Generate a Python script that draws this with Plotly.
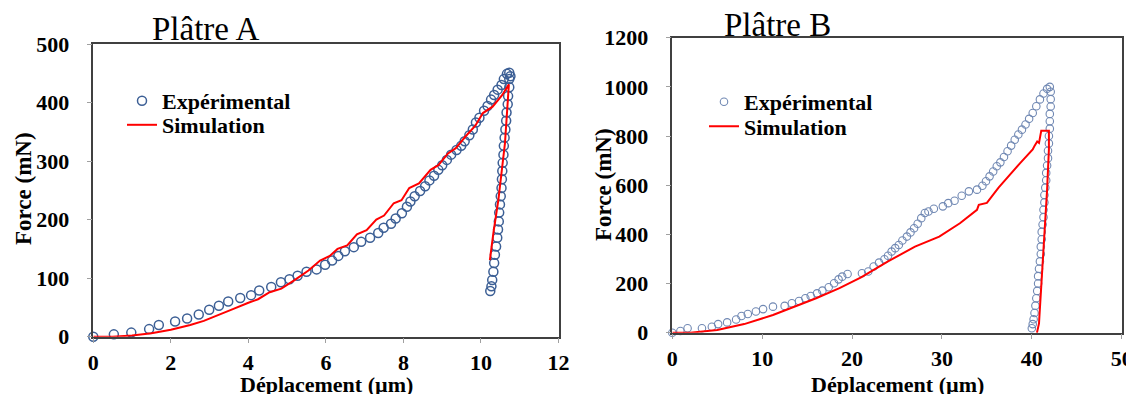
import plotly.graph_objects as go

# ---------------- Data: Plâtre A ----------------
expA_x = [0, 0.53, 0.98, 1.44, 1.69, 2.11, 2.42, 2.72, 2.99, 3.24, 3.48, 3.79, 4.07, 4.28,
          4.59, 4.84, 5.06, 5.27, 5.50, 5.76, 5.98, 6.16, 6.32, 6.49, 6.72, 6.91, 7.14, 7.35,
          7.49, 7.68, 7.80, 7.96, 8.09, 8.18, 8.29, 8.43, 8.56, 8.67, 8.79, 8.90, 9.00, 9.12,
          9.23, 9.37, 9.49, 9.58, 9.70, 9.79, 9.87, 9.96, 10.08, 10.17, 10.26, 10.34, 10.43,
          10.53, 10.59, 10.67, 10.73,
          10.76, 10.73, 10.73, 10.70, 10.69, 10.66, 10.65, 10.63, 10.61, 10.59, 10.58, 10.56,
          10.55, 10.54, 10.53, 10.51, 10.49, 10.47, 10.46, 10.44, 10.42, 10.39, 10.36, 10.34,
          10.32, 10.29, 10.27, 10.24]
expA_y = [0, 4, 7, 13, 20, 26, 31, 38, 46, 53, 60, 66, 71, 79,
          85, 93, 98, 104, 111, 115, 123, 130, 138, 146, 153, 162, 169, 177,
          186, 193, 202, 211, 222, 231, 240, 249, 257, 267, 275, 285, 293, 302,
          311, 319, 326, 334, 344, 354, 366, 374, 386, 394, 405, 413, 422,
          430, 440, 449, 451,
          445, 440, 426, 411, 397, 383, 369, 354, 340, 326, 311, 297,
          283, 269, 254, 240, 226, 212, 197, 183, 169, 154, 140, 126,
          111, 97, 86, 78]

simA_x = [0, 0.5, 1.0, 1.5, 2.0, 2.5, 2.85, 3.25, 3.6, 4.0, 4.25, 4.55, 4.85, 5.2, 5.55,
          5.85, 6.1, 6.3, 6.55, 6.8, 7.05, 7.3, 7.5, 7.75, 7.95, 8.15, 8.4, 8.7, 8.9, 9.15,
          9.35, 9.6, 9.85, 10.05, 10.3, 10.55, 10.72, 10.62, 10.45, 10.32, 10.23]
simA_y = [0, 0, 2, 6, 12, 20, 27, 37, 47, 58, 64, 76, 82, 97, 113,
          130, 138, 150, 156, 175, 182, 200, 207, 228, 233, 254, 262, 285, 293, 313,
          322, 342, 360, 382, 393, 413, 431, 331, 234, 177, 131]

# ---------------- Data: Plâtre B ----------------
expB_x = [0, 0.9, 1.7, 3.3, 4.4, 5.1, 6.1, 7.1, 7.7, 8.4, 9.3, 10.1, 11.2, 12.5, 13.3,
          14.1, 14.8, 15.4, 16.1, 16.7, 17.4, 18.0, 18.5, 18.9, 19.5, 21.1, 21.8, 22.4,
          23.0, 23.6, 24.0, 24.4, 24.8, 25.2, 25.6, 26.1, 26.5, 26.9, 27.3, 27.7, 28.1,
          28.5, 29.1, 30.1, 30.7, 31.4, 32.2, 33.0, 33.9, 34.5, 34.9, 35.3, 35.7, 36.1,
          36.5, 36.9, 37.3, 37.7, 38.1, 38.5, 38.9, 39.3, 39.7, 40.1, 40.5, 40.9, 41.3,
          41.7, 42.0,
          42.1, 42.1, 42.1, 42.0, 42.0, 42.0, 41.9, 41.9, 41.8, 41.8, 41.7, 41.6, 41.6,
          41.5, 41.4, 41.4, 41.3, 41.3, 41.2, 41.1, 41.1, 41.0, 41.0, 40.9, 40.8, 40.7,
          40.7, 40.6, 40.5, 40.4, 40.3, 40.2, 40.1, 40.0]
expB_y = [0, 7, 18, 18, 24, 35, 42, 54, 68, 76, 86, 96, 106, 109, 120,
          129, 140, 149, 160, 171, 185, 201, 217, 228, 239, 242, 249, 269,
          285, 299, 313, 330, 344, 357, 375, 391, 408, 425, 443, 466, 487,
          493, 504, 514, 527, 537, 557, 575, 582, 598, 616, 636, 656, 677,
          693, 715, 738, 761, 785, 806, 826, 847, 870, 894, 921, 949, 973,
          992, 1000,
          980, 950, 920, 890, 860, 830, 800, 770, 740, 710, 680, 650, 620,
          590, 560, 530, 500, 470, 440, 410, 380, 350, 320, 290, 260, 230,
          200, 170, 140, 110, 80, 55, 35, 18]

simB_x = [0, 2, 5, 8, 11.2, 14, 16, 18.6, 21, 24, 27, 29.7, 32, 33.9, 34.1, 35, 36.3,
          38.7, 39.8, 40.1, 40.3, 40.6, 40.8, 41.05, 41.9, 41.9, 41.7, 41.4, 41.06, 40.8, 40.57]
simB_y = [0, 0, 11, 35, 72, 110, 140, 181, 225, 290, 350, 391, 445, 500, 520, 528, 590,
          690, 731, 745, 760, 778, 772, 822, 822, 745, 582, 391, 187, 38, 0]

titles = ["Plâtre A", "Plâtre B"]
x_title = "Déplacement (µm)"
y_title = "Force (mN)"
names = ["Expérimental", "Simulation"]

# The page body has an 8 px margin: size the figure so it fits the 1134x394 window.
OFF = 8
W, H = 1134 - OFF, 394 - OFF
FONT = "Liberation Serif"


def px_x(p):
    return (p - OFF) / W


def px_y(p):
    return 1 - (p - OFF) / H


fig = go.Figure()

# Left panel
fig.add_trace(go.Scatter(x=expA_x, y=expA_y, mode="markers", name=names[0],
                         marker=dict(symbol="circle-open", size=9, color="#3c5f95",
                                     line=dict(width=1.5, color="#3c5f95")),
                         cliponaxis=False, xaxis="x", yaxis="y", legend="legend"))
fig.add_trace(go.Scatter(x=simA_x, y=simA_y, mode="lines", name=names[1],
                         line=dict(color="#ff0000", width=2),
                         xaxis="x", yaxis="y", legend="legend2"))
# Right panel
fig.add_trace(go.Scatter(x=expB_x, y=expB_y, mode="markers", name=names[0],
                         marker=dict(symbol="circle-open", size=7.5, color="#7088b3",
                                     line=dict(width=1.1, color="#7088b3")),
                         cliponaxis=False, xaxis="x2", yaxis="y2", legend="legend3"))
fig.add_trace(go.Scatter(x=simB_x, y=simB_y, mode="lines", name=names[1],
                         line=dict(color="#ff0000", width=2),
                         xaxis="x2", yaxis="y2", legend="legend4"))

tickfont = dict(family=FONT, size=22, color="black", weight="bold")
axis_common = dict(showgrid=False, zeroline=False, showline=True, linecolor="#404040",
                   linewidth=1.5, mirror=True, ticks="outside", ticklen=5, tickwidth=1,
                   tickcolor="#a0a0a0", tickfont=tickfont, fixedrange=True,
                   automargin=False)
legfont = dict(family=FONT, size=22, color="black", weight="bold")


def leg(xp, yp):
    return dict(x=px_x(xp), y=px_y(yp), xanchor="left", yanchor="middle",
                bgcolor="rgba(0,0,0,0)", itemwidth=30, font=legfont)


fig.update_layout(
    width=W, height=H,
    margin=dict(l=0, r=0, t=0, b=0, autoexpand=False),
    paper_bgcolor="white", plot_bgcolor="white",
    xaxis=dict(domain=[px_x(93.3), px_x(558.5)], range=[0, 12], dtick=2, anchor="y",
               ticklabelstandoff=0, **axis_common),
    yaxis=dict(domain=[px_y(336.7), px_y(44)], range=[0, 500], dtick=100, anchor="x",
               ticklabelstandoff=13, **axis_common),
    xaxis2=dict(domain=[px_x(672.3), px_x(1121.7)], range=[0, 50], dtick=10, anchor="y2",
                ticklabelstandoff=0, **axis_common),
    yaxis2=dict(domain=[px_y(332.7), px_y(37.7)], range=[0, 1200], dtick=200, anchor="x2",
                ticklabelstandoff=13, **axis_common),
    legend=leg(122, 101),
    legend2=leg(122, 125),
    legend3=leg(704, 102),
    legend4=leg(704, 126.5),
    showlegend=True,
)

ann = []
# panel titles
ann.append(dict(text=titles[0], x=px_x(205), y=px_y(29), xref="paper", yref="paper",
                showarrow=False, xanchor="center", yanchor="middle",
                font=dict(family=FONT, size=33, color="black")))
ann.append(dict(text=titles[1], x=px_x(777), y=px_y(25), xref="paper", yref="paper",
                showarrow=False, xanchor="center", yanchor="middle",
                font=dict(family=FONT, size=33, color="black")))
# axis titles
for cx, cy in [(326, 384), (897, 384)]:
    ann.append(dict(text=x_title, x=px_x(cx), y=px_y(cy), xref="paper", yref="paper",
                    showarrow=False, xanchor="center", yanchor="middle",
                    font=dict(family=FONT, size=22, color="black", weight="bold")))
for cx, cy in [(23, 189), (603, 185)]:
    ann.append(dict(text=y_title, x=px_x(cx), y=px_y(cy), xref="paper", yref="paper",
                    showarrow=False, xanchor="center", yanchor="middle", textangle=-90,
                    font=dict(family=FONT, size=23, color="black", weight="bold")))
fig.update_layout(annotations=ann)

fig.write_html("out.html")
